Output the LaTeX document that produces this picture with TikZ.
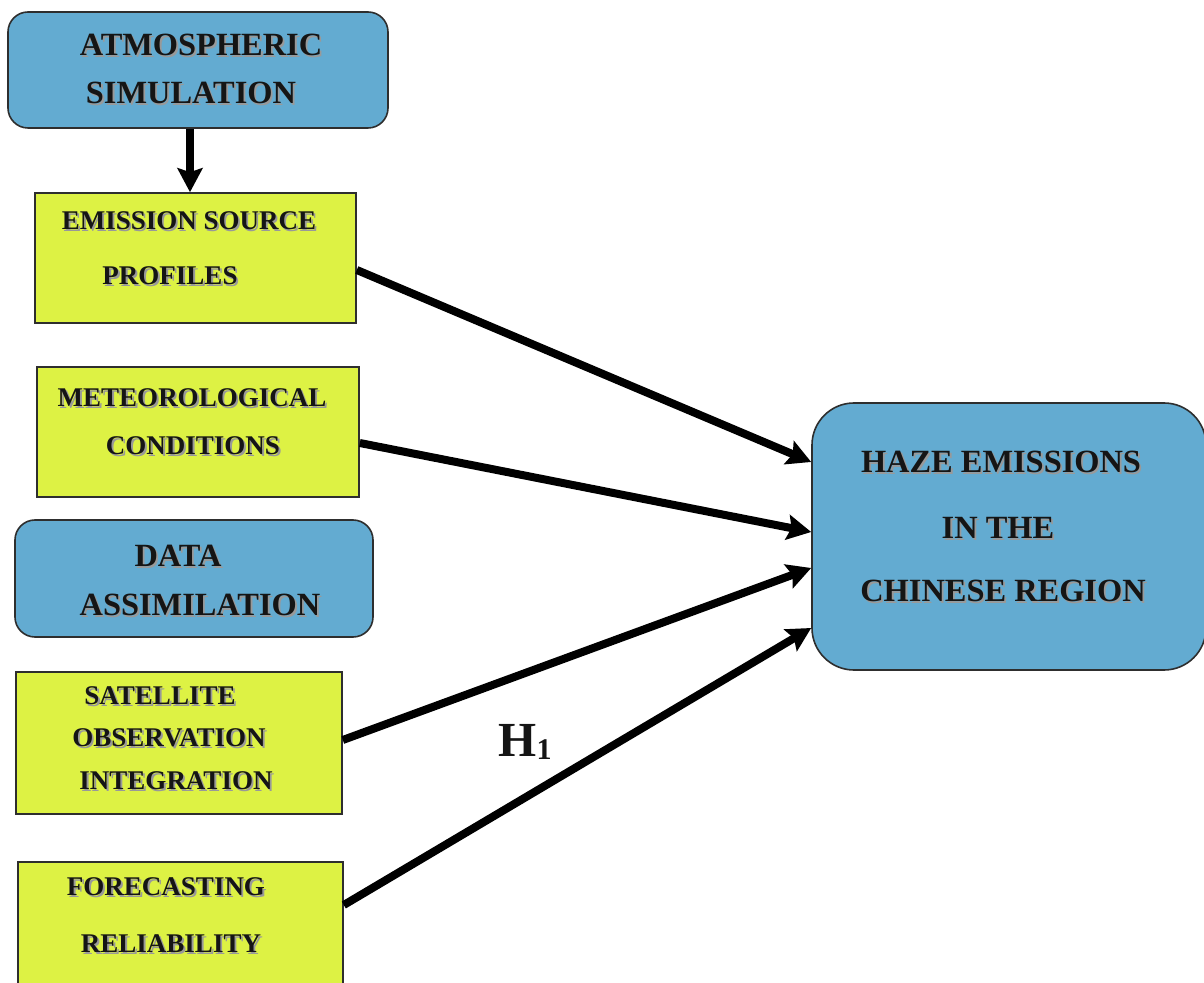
\documentclass[tikz,border=0pt]{standalone}
\usepackage{fontspec}
\setmainfont{Liberation Serif}
\usetikzlibrary{arrows.meta,calc}
\definecolor{boxblue}{HTML}{63ABD1}
\definecolor{boxyellow}{HTML}{DDF244}
\definecolor{edgegray}{HTML}{2E2E2E}
\definecolor{inktext}{HTML}{151515}
\newcommand\shtxt[1]{\leavevmode\rlap{\kern0.9pt\raisebox{-0.9pt}{\textcolor{black!40}{#1}}}#1}
\begin{document}
\begin{tikzpicture}[x=0.5pt,y=-0.5pt,
  bluebox/.style={draw=edgegray,line width=0.8pt,fill=boxblue,rounded corners=10pt,inner sep=0pt},
  yelbox/.style={draw=edgegray,line width=0.8pt,fill=boxyellow,inner sep=0pt},
  smalltxt/.style={inner sep=0pt,anchor=center,text=inktext,font=\bfseries\fontsize{13.5}{16}\selectfont},
  bigtxt/.style={inner sep=0pt,anchor=center,text=inktext,font=\bfseries\fontsize{16.2}{19}\selectfont},
  arr/.style={line width=4pt,-{Stealth[length=12pt,width=12.5pt,inset=2pt]}}]
\clip (0,0) rectangle (1204,983);
\fill[white] (0,0) rectangle (1204,983);

% boxes
\node[bluebox,minimum width=190pt,minimum height=58pt] (atm) at (198,70) {};
\node[yelbox,minimum width=160.5pt,minimum height=65pt] (emi) at (195.5,258) {};
\node[yelbox,minimum width=161pt,minimum height=65pt] (met) at (198,432) {};
\node[bluebox,minimum width=179pt,minimum height=58.5pt] (dat) at (194,578.5) {};
\node[yelbox,minimum width=163pt,minimum height=71pt] (sat) at (179,743) {};
\node[yelbox,minimum width=162.5pt,minimum height=69pt] (fc) at (180.5,931) {};
\node[bluebox,rounded corners=21pt,minimum width=197pt,minimum height=133.5pt] (haze) at (1009,536.5) {};

% texts
\node[bigtxt] (atm1) at (201,46) {\shtxt{ATMOSPHERIC}};
\node[bigtxt] (atm2) at (191,94) {\shtxt{SIMULATION}};
\node[smalltxt] (emi1) at (189,222) {\shtxt{EMISSION SOURCE}};
\node[smalltxt] (emi2) at (170,277) {\shtxt{PROFILES}};
\node[smalltxt] (met1) at (192,399) {\shtxt{METEOROLOGICAL}};
\node[smalltxt] (met2) at (193,447) {\shtxt{CONDITIONS}};
\node[bigtxt] (dat1) at (178,557) {\shtxt{DATA}};
\node[bigtxt] (dat2) at (200,606) {\shtxt{ASSIMILATION}};
\node[smalltxt] (sat1) at (160,697) {\shtxt{SATELLITE}};
\node[smalltxt] (sat2) at (169,739) {\shtxt{OBSERVATION}};
\node[smalltxt] (sat3) at (176,782) {\shtxt{INTEGRATION}};
\node[smalltxt] (fc1) at (166,888) {\shtxt{FORECASTING}};
\node[smalltxt] (fc2) at (171,945) {\shtxt{RELIABILITY}};
\node[bigtxt] (hz1) at (1001,463) {\shtxt{HAZE EMISSIONS}};
\node[bigtxt] (hz2) at (998,529) {\shtxt{IN THE}};
\node[bigtxt] (hz3) at (1003,592) {\shtxt{CHINESE REGION}};

\node[inner sep=0pt,anchor=base west,text=inktext,font=\bfseries\fontsize{24.5}{28}\selectfont] (h1) at (498,756)
  {H\raisebox{-1.5pt}{\fontsize{15}{17}\selectfont 1}};

% connectors
\draw[arr] ($(atm.south)+(-8,0)$) -- ($(emi.north)+(-5.5,0)$);
\draw[arr] ($(emi.east)+(0,12)$) -- ($(haze.west)+(0,-74.5)$);
\draw[arr] ($(met.east)+(0,11)$) -- ($(haze.west)+(0,-4.5)$);
\draw[arr] ($(sat.east)+(0,-3)$) -- ($(haze.west)+(0,31.5)$);
\draw[arr] ($(fc.east)+(0,-26)$) -- ($(haze.west)+(0,91.5)$);
\end{tikzpicture}
\end{document}
